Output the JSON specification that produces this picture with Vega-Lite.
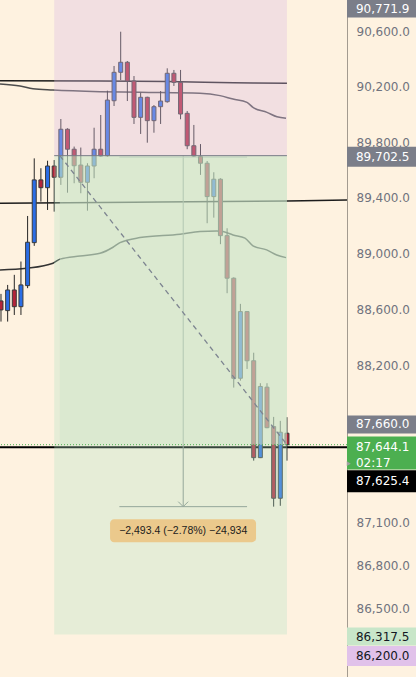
{
"$schema":"https://vega.github.io/schema/vega-lite/v6.json",
"width":347,"height":677,
"autosize":{"type":"none"},
"padding":{"left":0,"top":0,"right":69,"bottom":0},
"background":"#fef2e0",
"config":{"view":{"stroke":null},"scale":{"continuousPadding":0}},
"datasets":{
"candles":[
{"i":0,"open":88662,"high":88712,"low":88515,"close":88598},
{"i":1,"open":88593,"high":88776,"low":88515,"close":88740},
{"i":2,"open":88740,"high":88848,"low":88562,"close":88621},
{"i":3,"open":88621,"high":88943,"low":88562,"close":88776},
{"i":4,"open":88771,"high":89269,"low":88753,"close":89081},
{"i":5,"open":89078,"high":89683,"low":89055,"close":89528},
{"i":6,"open":89528,"high":89612,"low":89372,"close":89472},
{"i":7,"open":89472,"high":89666,"low":89312,"close":89628},
{"i":8,"open":89628,"high":89671,"low":89300,"close":89547},
{"i":9,"open":89547,"high":89967,"low":89492,"close":89893},
{"i":10,"open":89893,"high":89900,"low":89436,"close":89749},
{"i":11,"open":89749,"high":89768,"low":89504,"close":89630},
{"i":12,"open":89635,"high":89761,"low":89432,"close":89511},
{"i":13,"open":89511,"high":89648,"low":89307,"close":89628},
{"i":14,"open":89628,"high":89904,"low":89540,"close":89749},
{"i":15,"open":89749,"high":89996,"low":89695,"close":89700},
{"i":16,"open":89702,"high":90172,"low":89695,"close":90104},
{"i":17,"open":90099,"high":90351,"low":90061,"close":90305},
{"i":18,"open":90305,"high":90600,"low":90249,"close":90378},
{"i":19,"open":90378,"high":90387,"low":90097,"close":90242},
{"i":20,"open":90242,"high":90278,"low":89931,"close":89979},
{"i":21,"open":89979,"high":90157,"low":89859,"close":90124},
{"i":22,"open":90124,"high":90128,"low":89796,"close":89955},
{"i":23,"open":89955,"high":90068,"low":89868,"close":90056},
{"i":24,"open":90056,"high":90169,"low":89931,"close":90097},
{"i":25,"open":90092,"high":90334,"low":90085,"close":90298},
{"i":26,"open":90298,"high":90322,"low":90206,"close":90232},
{"i":27,"open":90232,"high":90322,"low":89965,"close":90003},
{"i":28,"open":90008,"high":90025,"low":89749,"close":89774},
{"i":29,"open":89774,"high":89924,"low":89695,"close":89700},
{"i":30,"open":89695,"high":89786,"low":89564,"close":89648},
{"i":31,"open":89648,"high":89664,"low":89217,"close":89408},
{"i":32,"open":89408,"high":89583,"low":89257,"close":89533},
{"i":33,"open":89533,"high":89540,"low":89067,"close":89128},
{"i":34,"open":89128,"high":89181,"low":88717,"close":88824},
{"i":35,"open":88824,"high":88830,"low":88047,"close":88113},
{"i":36,"open":88113,"high":88641,"low":88096,"close":88586},
{"i":37,"open":88586,"high":88590,"low":88179,"close":88237},
{"i":38,"open":88237,"high":88294,"low":87532,"close":87553},
{"i":39,"open":87553,"high":88078,"low":87550,"close":88055},
{"i":40,"open":88050,"high":88078,"low":87760,"close":87764},
{"i":41,"open":87772,"high":87840,"low":87209.1,"close":87268},
{"i":42,"open":87268,"high":87812,"low":87215,"close":87732},
{"i":43,"open":87725,"high":87838,"low":87532,"close":87644.1}
],
"mas":[
{"ma":"A","i":-0.15,"price":90244},{"ma":"A","i":15,"price":90242},{"ma":"A","i":25,"price":90238},{"ma":"A","i":35,"price":90230},{"ma":"A","i":43,"price":90225},
{"ma":"B","i":-0.15,"price":90220},{"ma":"B","i":2.86,"price":90206},{"ma":"B","i":4.81,"price":90186},{"ma":"B","i":7.82,"price":90177},{"ma":"B","i":14.89,"price":90165},{"ma":"B","i":20.9,"price":90160},{"ma":"B","i":29.92,"price":90153},{"ma":"B","i":32.93,"price":90136},{"ma":"B","i":34.89,"price":90111},{"ma":"B","i":36.99,"price":90087},{"ma":"B","i":37.89,"price":90051},{"ma":"B","i":40,"price":90015},{"ma":"B","i":41.5,"price":89983},{"ma":"B","i":42.86,"price":89972},
{"ma":"C","i":-0.15,"price":89360},{"ma":"C","i":20,"price":89368},{"ma":"C","i":43,"price":89377},{"ma":"C","i":52.03,"price":89383},
{"ma":"D","i":-0.15,"price":88883},{"ma":"D","i":3.86,"price":88895},{"ma":"D","i":7.82,"price":88931},{"ma":"D","i":8.87,"price":88960},{"ma":"D","i":11.88,"price":88983},{"ma":"D","i":14.89,"price":89002},{"ma":"D","i":16.84,"price":89045},{"ma":"D","i":17.89,"price":89078},{"ma":"D","i":20.9,"price":89114},{"ma":"D","i":26.92,"price":89138},{"ma":"D","i":29.92,"price":89157},{"ma":"D","i":32.44,"price":89162},{"ma":"D","i":33.38,"price":89157},{"ma":"D","i":34.89,"price":89133},{"ma":"D","i":36.69,"price":89110},{"ma":"D","i":37.89,"price":89055},{"ma":"D","i":39.95,"price":89026},{"ma":"D","i":41.46,"price":88990},{"ma":"D","i":42.86,"price":88971}
],
"tool":[{"from":8,"pnlFrom":8.85,"to":43,"entry":89702.5,"stop":90771.9,"target":86317.5,"last":87644.1}],
"measure":[{"start":17.8,"end":37,"mid":27.4,"top":89702.5,"bottom":87209.1,"boxFrom":16.4,"boxTo":38.35,"label":"−2,493.4 (−2.78%) −24,934"}],
"diag":[{"i":8.85,"price":89702.5},{"i":43,"price":87644.1}],
"levels":[{"name":"user","price":87625.4},{"name":"last","price":87644.1}]
},
"layer":[
{"data":{"name":"mas"},
 "mark":{"type":"line","strokeWidth":1.5,"interpolate":"monotone"},
 "encoding":{
  "x":{"field":"i","type":"quantitative","scale":{"domain":[-0.15,52.03],"nice":false,"zero":false,"padding":0},"axis":null},
  "y":{"field":"price","type":"quantitative","scale":{"type":"log","domain":[86024,90831],"nice":false,"zero":false,"padding":0},
       "axis":{"orient":"right","values":[90600,90200,89800,89400,89000,88600,88200,87100,86800,86500],"format":",.1f","title":null,"ticks":false,"labelPadding":9,"labelFont":"DejaVu Sans","labelFontSize":12,"labelColor":"#70737e","domainColor":"#a39b90","grid":false,"labelOverlap":false,"labelFlush":false}},
  "color":{"field":"ma","type":"nominal","scale":{"domain":["A","B","C","D"],"range":["#1c1c1c","#4d4d4d","#1c1c1c","#333333"]},"legend":null},
  "order":{"field":"i","type":"quantitative"}
 }},
{"data":{"name":"levels"},"transform":[{"filter":"datum.name == 'user'"}],
 "mark":{"type":"rule","color":"#000000","strokeWidth":2},
 "encoding":{"y":{"field":"price","type":"quantitative","scale":{"type":"log","domain":[86024,90831],"nice":false,"zero":false,"padding":0},"axis":{"orient":"right","values":[90600,90200,89800,89400,89000,88600,88200,87100,86800,86500],"format":",.1f","title":null,"ticks":false,"labelPadding":9,"labelFont":"DejaVu Sans","labelFontSize":12,"labelColor":"#70737e","domainColor":"#a39b90","grid":false,"labelOverlap":false,"labelFlush":false}}}},
{"data":{"name":"measure"},
 "layer":[
  {"mark":{"type":"rule","color":"#8a8f8a","strokeWidth":1},
   "encoding":{"x":{"field":"mid","type":"quantitative","scale":{"domain":[-0.15,52.03],"nice":false,"zero":false,"padding":0},"axis":null},"y":{"field":"top","type":"quantitative","scale":{"type":"log","domain":[86024,90831],"nice":false,"zero":false,"padding":0},"axis":{"orient":"right","values":[90600,90200,89800,89400,89000,88600,88200,87100,86800,86500],"format":",.1f","title":null,"ticks":false,"labelPadding":9,"labelFont":"DejaVu Sans","labelFontSize":12,"labelColor":"#70737e","domainColor":"#a39b90","grid":false,"labelOverlap":false,"labelFlush":false}},"y2":{"field":"bottom"}}},
  {"mark":{"type":"rule","color":"#8a8f8a","strokeWidth":1},
   "encoding":{"x":{"field":"start","type":"quantitative","scale":{"domain":[-0.15,52.03],"nice":false,"zero":false,"padding":0},"axis":null},"x2":{"field":"end"},"y":{"field":"bottom","type":"quantitative","scale":{"type":"log","domain":[86024,90831],"nice":false,"zero":false,"padding":0},"axis":{"orient":"right","values":[90600,90200,89800,89400,89000,88600,88200,87100,86800,86500],"format":",.1f","title":null,"ticks":false,"labelPadding":9,"labelFont":"DejaVu Sans","labelFontSize":12,"labelColor":"#70737e","domainColor":"#a39b90","grid":false,"labelOverlap":false,"labelFlush":false}}}},
  {"mark":{"type":"rule","color":"#b0b4b0","strokeWidth":1,"yOffset":1.5},
   "encoding":{"x":{"field":"start","type":"quantitative","scale":{"domain":[-0.15,52.03],"nice":false,"zero":false,"padding":0},"axis":null},"x2":{"field":"end"},"y":{"field":"top","type":"quantitative","scale":{"type":"log","domain":[86024,90831],"nice":false,"zero":false,"padding":0},"axis":{"orient":"right","values":[90600,90200,89800,89400,89000,88600,88200,87100,86800,86500],"format":",.1f","title":null,"ticks":false,"labelPadding":9,"labelFont":"DejaVu Sans","labelFontSize":12,"labelColor":"#70737e","domainColor":"#a39b90","grid":false,"labelOverlap":false,"labelFlush":false}}}},
  {"mark":{"type":"point","shape":"M-1,-1L0,0L1,-1","filled":false,"size":100,"stroke":"#8a8f8a","strokeWidth":1,"opacity":1},
   "encoding":{"x":{"field":"mid","type":"quantitative","scale":{"domain":[-0.15,52.03],"nice":false,"zero":false,"padding":0},"axis":null},"y":{"field":"bottom","type":"quantitative","scale":{"type":"log","domain":[86024,90831],"nice":false,"zero":false,"padding":0},"axis":{"orient":"right","values":[90600,90200,89800,89400,89000,88600,88200,87100,86800,86500],"format":",.1f","title":null,"ticks":false,"labelPadding":9,"labelFont":"DejaVu Sans","labelFontSize":12,"labelColor":"#70737e","domainColor":"#a39b90","grid":false,"labelOverlap":false,"labelFlush":false}}}}
 ]},
{"data":{"name":"candles"},
 "mark":{"type":"rule","color":"#262626","strokeWidth":1},
 "encoding":{"x":{"field":"i","type":"quantitative","scale":{"domain":[-0.15,52.03],"nice":false,"zero":false,"padding":0},"axis":null},
  "y":{"field":"low","type":"quantitative","scale":{"type":"log","domain":[86024,90831],"nice":false,"zero":false,"padding":0},"axis":{"orient":"right","values":[90600,90200,89800,89400,89000,88600,88200,87100,86800,86500],"format":",.1f","title":null,"ticks":false,"labelPadding":9,"labelFont":"DejaVu Sans","labelFontSize":12,"labelColor":"#70737e","domainColor":"#a39b90","grid":false,"labelOverlap":false,"labelFlush":false}},"y2":{"field":"high"}}},
{"data":{"name":"candles"},
 "mark":{"type":"bar","size":4,"stroke":"#3a3a3a","strokeWidth":1},
 "encoding":{"x":{"field":"i","type":"quantitative","scale":{"domain":[-0.15,52.03],"nice":false,"zero":false,"padding":0},"axis":null},
  "y":{"field":"open","type":"quantitative","scale":{"type":"log","domain":[86024,90831],"nice":false,"zero":false,"padding":0},"axis":{"orient":"right","values":[90600,90200,89800,89400,89000,88600,88200,87100,86800,86500],"format":",.1f","title":null,"ticks":false,"labelPadding":9,"labelFont":"DejaVu Sans","labelFontSize":12,"labelColor":"#70737e","domainColor":"#a39b90","grid":false,"labelOverlap":false,"labelFlush":false}},"y2":{"field":"close"},
  "color":{"condition":{"test":"datum.close >= datum.open","value":"#2a6de6"},"value":"#b3243a"}}},
{"data":{"name":"tool"},
 "layer":[
  {"mark":{"type":"rect","color":"#dcbce3","opacity":0.35,"clip":true,"y2Offset":-12},
   "encoding":{"x":{"field":"from","type":"quantitative","scale":{"domain":[-0.15,52.03],"nice":false,"zero":false,"padding":0},"axis":null},"x2":{"field":"to"},"y":{"field":"entry","type":"quantitative","scale":{"type":"log","domain":[86024,90831],"nice":false,"zero":false,"padding":0},"axis":{"orient":"right","values":[90600,90200,89800,89400,89000,88600,88200,87100,86800,86500],"format":",.1f","title":null,"ticks":false,"labelPadding":9,"labelFont":"DejaVu Sans","labelFontSize":12,"labelColor":"#70737e","domainColor":"#a39b90","grid":false,"labelOverlap":false,"labelFlush":false}},"y2":{"field":"stop"}}},
  {"mark":{"type":"rect","color":"#b1e1c2","opacity":0.3},
   "encoding":{"x":{"field":"from","type":"quantitative","scale":{"domain":[-0.15,52.03],"nice":false,"zero":false,"padding":0},"axis":null},"x2":{"field":"to"},"y":{"field":"entry","type":"quantitative","scale":{"type":"log","domain":[86024,90831],"nice":false,"zero":false,"padding":0},"axis":{"orient":"right","values":[90600,90200,89800,89400,89000,88600,88200,87100,86800,86500],"format":",.1f","title":null,"ticks":false,"labelPadding":9,"labelFont":"DejaVu Sans","labelFontSize":12,"labelColor":"#70737e","domainColor":"#a39b90","grid":false,"labelOverlap":false,"labelFlush":false}},"y2":{"field":"target"}}},
  {"mark":{"type":"rect","color":"#cfe5c9","opacity":0.5},
   "encoding":{"x":{"field":"pnlFrom","type":"quantitative","scale":{"domain":[-0.15,52.03],"nice":false,"zero":false,"padding":0},"axis":null},"x2":{"field":"to"},"y":{"field":"entry","type":"quantitative","scale":{"type":"log","domain":[86024,90831],"nice":false,"zero":false,"padding":0},"axis":{"orient":"right","values":[90600,90200,89800,89400,89000,88600,88200,87100,86800,86500],"format":",.1f","title":null,"ticks":false,"labelPadding":9,"labelFont":"DejaVu Sans","labelFontSize":12,"labelColor":"#70737e","domainColor":"#a39b90","grid":false,"labelOverlap":false,"labelFlush":false}},"y2":{"field":"last"}}},
  {"mark":{"type":"rule","color":"#787b86","strokeWidth":1},
   "encoding":{"x":{"field":"from","type":"quantitative","scale":{"domain":[-0.15,52.03],"nice":false,"zero":false,"padding":0},"axis":null},"x2":{"field":"to"},"y":{"field":"entry","type":"quantitative","scale":{"type":"log","domain":[86024,90831],"nice":false,"zero":false,"padding":0},"axis":{"orient":"right","values":[90600,90200,89800,89400,89000,88600,88200,87100,86800,86500],"format":",.1f","title":null,"ticks":false,"labelPadding":9,"labelFont":"DejaVu Sans","labelFontSize":12,"labelColor":"#70737e","domainColor":"#a39b90","grid":false,"labelOverlap":false,"labelFlush":false}}}}
 ]},
{"data":{"name":"diag"},
 "mark":{"type":"line","color":"#7d8490","strokeWidth":1.3,"strokeDash":[5,4]},
 "encoding":{"x":{"field":"i","type":"quantitative","scale":{"domain":[-0.15,52.03],"nice":false,"zero":false,"padding":0},"axis":null},
  "y":{"field":"price","type":"quantitative","scale":{"type":"log","domain":[86024,90831],"nice":false,"zero":false,"padding":0},"axis":{"orient":"right","values":[90600,90200,89800,89400,89000,88600,88200,87100,86800,86500],"format":",.1f","title":null,"ticks":false,"labelPadding":9,"labelFont":"DejaVu Sans","labelFontSize":12,"labelColor":"#70737e","domainColor":"#a39b90","grid":false,"labelOverlap":false,"labelFlush":false}}}},
{"data":{"name":"levels"},"transform":[{"filter":"datum.name == 'last'"}],
 "mark":{"type":"rule","color":"#4caf50","strokeWidth":1,"strokeDash":[1,2]},
 "encoding":{"y":{"field":"price","type":"quantitative","scale":{"type":"log","domain":[86024,90831],"nice":false,"zero":false,"padding":0},"axis":{"orient":"right","values":[90600,90200,89800,89400,89000,88600,88200,87100,86800,86500],"format":",.1f","title":null,"ticks":false,"labelPadding":9,"labelFont":"DejaVu Sans","labelFontSize":12,"labelColor":"#70737e","domainColor":"#a39b90","grid":false,"labelOverlap":false,"labelFlush":false}}}},
{"data":{"name":"measure"},
 "layer":[
  {"mark":{"type":"bar","color":"#ebc98c","size":23,"yOffset":24,"cornerRadius":4},
   "encoding":{"x":{"field":"boxFrom","type":"quantitative","scale":{"domain":[-0.15,52.03],"nice":false,"zero":false,"padding":0},"axis":null},"x2":{"field":"boxTo"},"y":{"field":"bottom","type":"quantitative","scale":{"type":"log","domain":[86024,90831],"nice":false,"zero":false,"padding":0},"axis":{"orient":"right","values":[90600,90200,89800,89400,89000,88600,88200,87100,86800,86500],"format":",.1f","title":null,"ticks":false,"labelPadding":9,"labelFont":"DejaVu Sans","labelFontSize":12,"labelColor":"#70737e","domainColor":"#a39b90","grid":false,"labelOverlap":false,"labelFlush":false}}}},
  {"mark":{"type":"text","align":"center","baseline":"middle","font":"Liberation Sans","fontSize":10.5,"color":"#1c1c1c","yOffset":24},
   "encoding":{"x":{"field":"mid","type":"quantitative","scale":{"domain":[-0.15,52.03],"nice":false,"zero":false,"padding":0},"axis":null},"y":{"field":"bottom","type":"quantitative","scale":{"type":"log","domain":[86024,90831],"nice":false,"zero":false,"padding":0},"axis":{"orient":"right","values":[90600,90200,89800,89400,89000,88600,88200,87100,86800,86500],"format":",.1f","title":null,"ticks":false,"labelPadding":9,"labelFont":"DejaVu Sans","labelFontSize":12,"labelColor":"#70737e","domainColor":"#a39b90","grid":false,"labelOverlap":false,"labelFlush":false}},"text":{"field":"label"}}}
 ]},
{"data":{"values":[
  {"label":"90,771.9","price":90771.9,"tag":"t1"},
  {"label":"89,702.5","price":89702.5,"tag":"t2"},
  {"label":"87,660.0","price":87660.0,"tag":"t3"},
  {"label":"87,644.1","timer":"02:17","price":87644.1,"tag":"t4"},
  {"label":"87,625.4","price":87625.4,"tag":"t5"},
  {"label":"86,317.5","price":86317.5,"tag":"t6"},
  {"label":"86,200.0","price":86200.0,"tag":"t7"}]},
 "layer":[
  {"transform":[{"filter":"datum.tag == 't1'"}],"mark":{"type":"bar","color":"#7b7e89","size":18,"yOffset":0.5,"clip":false},
   "encoding":{"x":{"datum":52.03,"type":"quantitative","scale":{"domain":[-0.15,52.03],"nice":false,"zero":false,"padding":0},"axis":null},"x2":{"datum":62.6},"y":{"field":"price","type":"quantitative","scale":{"type":"log","domain":[86024,90831],"nice":false,"zero":false,"padding":0},"axis":{"orient":"right","values":[90600,90200,89800,89400,89000,88600,88200,87100,86800,86500],"format":",.1f","title":null,"ticks":false,"labelPadding":9,"labelFont":"DejaVu Sans","labelFontSize":12,"labelColor":"#70737e","domainColor":"#a39b90","grid":false,"labelOverlap":false,"labelFlush":false}}}},
  {"transform":[{"filter":"datum.tag == 't1'"}],"mark":{"type":"text","align":"left","baseline":"middle","font":"DejaVu Sans","fontSize":12,"color":"#ffffff","yOffset":0.5,"clip":false},
   "encoding":{"x":{"datum":53.38,"type":"quantitative","scale":{"domain":[-0.15,52.03],"nice":false,"zero":false,"padding":0},"axis":null},"y":{"field":"price","type":"quantitative","scale":{"type":"log","domain":[86024,90831],"nice":false,"zero":false,"padding":0},"axis":{"orient":"right","values":[90600,90200,89800,89400,89000,88600,88200,87100,86800,86500],"format":",.1f","title":null,"ticks":false,"labelPadding":9,"labelFont":"DejaVu Sans","labelFontSize":12,"labelColor":"#70737e","domainColor":"#a39b90","grid":false,"labelOverlap":false,"labelFlush":false}},"text":{"field":"label"}}},
  {"transform":[{"filter":"datum.tag == 't2'"}],"mark":{"type":"bar","color":"#7b7e89","size":20,"yOffset":1,"clip":false},
   "encoding":{"x":{"datum":52.03,"type":"quantitative","scale":{"domain":[-0.15,52.03],"nice":false,"zero":false,"padding":0},"axis":null},"x2":{"datum":62.6},"y":{"field":"price","type":"quantitative","scale":{"type":"log","domain":[86024,90831],"nice":false,"zero":false,"padding":0},"axis":{"orient":"right","values":[90600,90200,89800,89400,89000,88600,88200,87100,86800,86500],"format":",.1f","title":null,"ticks":false,"labelPadding":9,"labelFont":"DejaVu Sans","labelFontSize":12,"labelColor":"#70737e","domainColor":"#a39b90","grid":false,"labelOverlap":false,"labelFlush":false}}}},
  {"transform":[{"filter":"datum.tag == 't2'"}],"mark":{"type":"text","align":"left","baseline":"middle","font":"DejaVu Sans","fontSize":12,"color":"#ffffff","yOffset":1,"clip":false},
   "encoding":{"x":{"datum":53.38,"type":"quantitative","scale":{"domain":[-0.15,52.03],"nice":false,"zero":false,"padding":0},"axis":null},"y":{"field":"price","type":"quantitative","scale":{"type":"log","domain":[86024,90831],"nice":false,"zero":false,"padding":0},"axis":{"orient":"right","values":[90600,90200,89800,89400,89000,88600,88200,87100,86800,86500],"format":",.1f","title":null,"ticks":false,"labelPadding":9,"labelFont":"DejaVu Sans","labelFontSize":12,"labelColor":"#70737e","domainColor":"#a39b90","grid":false,"labelOverlap":false,"labelFlush":false}},"text":{"field":"label"}}},
  {"transform":[{"filter":"datum.tag == 't3'"}],"mark":{"type":"bar","color":"#7b7e89","size":18,"yOffset":-18,"clip":false},
   "encoding":{"x":{"datum":52.03,"type":"quantitative","scale":{"domain":[-0.15,52.03],"nice":false,"zero":false,"padding":0},"axis":null},"x2":{"datum":62.6},"y":{"field":"price","type":"quantitative","scale":{"type":"log","domain":[86024,90831],"nice":false,"zero":false,"padding":0},"axis":{"orient":"right","values":[90600,90200,89800,89400,89000,88600,88200,87100,86800,86500],"format":",.1f","title":null,"ticks":false,"labelPadding":9,"labelFont":"DejaVu Sans","labelFontSize":12,"labelColor":"#70737e","domainColor":"#a39b90","grid":false,"labelOverlap":false,"labelFlush":false}}}},
  {"transform":[{"filter":"datum.tag == 't3'"}],"mark":{"type":"text","align":"left","baseline":"middle","font":"DejaVu Sans","fontSize":12,"color":"#ffffff","yOffset":-18,"clip":false},
   "encoding":{"x":{"datum":53.38,"type":"quantitative","scale":{"domain":[-0.15,52.03],"nice":false,"zero":false,"padding":0},"axis":null},"y":{"field":"price","type":"quantitative","scale":{"type":"log","domain":[86024,90831],"nice":false,"zero":false,"padding":0},"axis":{"orient":"right","values":[90600,90200,89800,89400,89000,88600,88200,87100,86800,86500],"format":",.1f","title":null,"ticks":false,"labelPadding":9,"labelFont":"DejaVu Sans","labelFontSize":12,"labelColor":"#70737e","domainColor":"#a39b90","grid":false,"labelOverlap":false,"labelFlush":false}},"text":{"field":"label"}}},
  {"transform":[{"filter":"datum.tag == 't4'"}],"mark":{"type":"bar","color":"#4caf50","size":33,"yOffset":8.3,"clip":false},
   "encoding":{"x":{"datum":52.03,"type":"quantitative","scale":{"domain":[-0.15,52.03],"nice":false,"zero":false,"padding":0},"axis":null},"x2":{"datum":62.6},"y":{"field":"price","type":"quantitative","scale":{"type":"log","domain":[86024,90831],"nice":false,"zero":false,"padding":0},"axis":{"orient":"right","values":[90600,90200,89800,89400,89000,88600,88200,87100,86800,86500],"format":",.1f","title":null,"ticks":false,"labelPadding":9,"labelFont":"DejaVu Sans","labelFontSize":12,"labelColor":"#70737e","domainColor":"#a39b90","grid":false,"labelOverlap":false,"labelFlush":false}}}},
  {"transform":[{"filter":"datum.tag == 't4'"}],"mark":{"type":"text","align":"left","baseline":"middle","font":"DejaVu Sans","fontSize":12,"color":"#ffffff","yOffset":2,"clip":false},
   "encoding":{"x":{"datum":53.38,"type":"quantitative","scale":{"domain":[-0.15,52.03],"nice":false,"zero":false,"padding":0},"axis":null},"y":{"field":"price","type":"quantitative","scale":{"type":"log","domain":[86024,90831],"nice":false,"zero":false,"padding":0},"axis":{"orient":"right","values":[90600,90200,89800,89400,89000,88600,88200,87100,86800,86500],"format":",.1f","title":null,"ticks":false,"labelPadding":9,"labelFont":"DejaVu Sans","labelFontSize":12,"labelColor":"#70737e","domainColor":"#a39b90","grid":false,"labelOverlap":false,"labelFlush":false}},"text":{"field":"label"}}},
  {"transform":[{"filter":"datum.tag == 't4'"}],"mark":{"type":"text","align":"left","baseline":"middle","font":"DejaVu Sans","fontSize":12,"color":"#ffffff","yOffset":18,"clip":false},
   "encoding":{"x":{"datum":53.38,"type":"quantitative","scale":{"domain":[-0.15,52.03],"nice":false,"zero":false,"padding":0},"axis":null},"y":{"field":"price","type":"quantitative","scale":{"type":"log","domain":[86024,90831],"nice":false,"zero":false,"padding":0},"axis":{"orient":"right","values":[90600,90200,89800,89400,89000,88600,88200,87100,86800,86500],"format":",.1f","title":null,"ticks":false,"labelPadding":9,"labelFont":"DejaVu Sans","labelFontSize":12,"labelColor":"#70737e","domainColor":"#a39b90","grid":false,"labelOverlap":false,"labelFlush":false}},"text":{"field":"timer"}}},
  {"transform":[{"filter":"datum.tag == 't4'"}],"mark":{"type":"point","shape":"triangle-right","filled":true,"color":"#a0a0a0","size":22,"yOffset":19,"opacity":1,"clip":false},
   "encoding":{"x":{"datum":52.3,"type":"quantitative","scale":{"domain":[-0.15,52.03],"nice":false,"zero":false,"padding":0},"axis":null},"y":{"field":"price","type":"quantitative","scale":{"type":"log","domain":[86024,90831],"nice":false,"zero":false,"padding":0},"axis":{"orient":"right","values":[90600,90200,89800,89400,89000,88600,88200,87100,86800,86500],"format":",.1f","title":null,"ticks":false,"labelPadding":9,"labelFont":"DejaVu Sans","labelFontSize":12,"labelColor":"#70737e","domainColor":"#a39b90","grid":false,"labelOverlap":false,"labelFlush":false}}}},
  {"transform":[{"filter":"datum.tag == 't5'"}],"mark":{"type":"bar","color":"#000000","size":22,"yOffset":34,"clip":false},
   "encoding":{"x":{"datum":52.03,"type":"quantitative","scale":{"domain":[-0.15,52.03],"nice":false,"zero":false,"padding":0},"axis":null},"x2":{"datum":62.6},"y":{"field":"price","type":"quantitative","scale":{"type":"log","domain":[86024,90831],"nice":false,"zero":false,"padding":0},"axis":{"orient":"right","values":[90600,90200,89800,89400,89000,88600,88200,87100,86800,86500],"format":",.1f","title":null,"ticks":false,"labelPadding":9,"labelFont":"DejaVu Sans","labelFontSize":12,"labelColor":"#70737e","domainColor":"#a39b90","grid":false,"labelOverlap":false,"labelFlush":false}}}},
  {"transform":[{"filter":"datum.tag == 't5'"}],"mark":{"type":"text","align":"left","baseline":"middle","font":"DejaVu Sans","fontSize":12,"color":"#ffffff","yOffset":34,"clip":false},
   "encoding":{"x":{"datum":53.38,"type":"quantitative","scale":{"domain":[-0.15,52.03],"nice":false,"zero":false,"padding":0},"axis":null},"y":{"field":"price","type":"quantitative","scale":{"type":"log","domain":[86024,90831],"nice":false,"zero":false,"padding":0},"axis":{"orient":"right","values":[90600,90200,89800,89400,89000,88600,88200,87100,86800,86500],"format":",.1f","title":null,"ticks":false,"labelPadding":9,"labelFont":"DejaVu Sans","labelFontSize":12,"labelColor":"#70737e","domainColor":"#a39b90","grid":false,"labelOverlap":false,"labelFlush":false}},"text":{"field":"label"}}},
  {"transform":[{"filter":"datum.tag == 't6'"}],"mark":{"type":"bar","color":"#c8e6c9","size":18,"yOffset":2,"clip":false},
   "encoding":{"x":{"datum":52.03,"type":"quantitative","scale":{"domain":[-0.15,52.03],"nice":false,"zero":false,"padding":0},"axis":null},"x2":{"datum":62.6},"y":{"field":"price","type":"quantitative","scale":{"type":"log","domain":[86024,90831],"nice":false,"zero":false,"padding":0},"axis":{"orient":"right","values":[90600,90200,89800,89400,89000,88600,88200,87100,86800,86500],"format":",.1f","title":null,"ticks":false,"labelPadding":9,"labelFont":"DejaVu Sans","labelFontSize":12,"labelColor":"#70737e","domainColor":"#a39b90","grid":false,"labelOverlap":false,"labelFlush":false}}}},
  {"transform":[{"filter":"datum.tag == 't6'"}],"mark":{"type":"text","align":"left","baseline":"middle","font":"DejaVu Sans","fontSize":12,"color":"#131722","yOffset":2,"clip":false},
   "encoding":{"x":{"datum":53.38,"type":"quantitative","scale":{"domain":[-0.15,52.03],"nice":false,"zero":false,"padding":0},"axis":null},"y":{"field":"price","type":"quantitative","scale":{"type":"log","domain":[86024,90831],"nice":false,"zero":false,"padding":0},"axis":{"orient":"right","values":[90600,90200,89800,89400,89000,88600,88200,87100,86800,86500],"format":",.1f","title":null,"ticks":false,"labelPadding":9,"labelFont":"DejaVu Sans","labelFontSize":12,"labelColor":"#70737e","domainColor":"#a39b90","grid":false,"labelOverlap":false,"labelFlush":false}},"text":{"field":"label"}}},
  {"transform":[{"filter":"datum.tag == 't7'"}],"mark":{"type":"bar","color":"#e1c2ea","size":20,"yOffset":4.4,"clip":false},
   "encoding":{"x":{"datum":52.03,"type":"quantitative","scale":{"domain":[-0.15,52.03],"nice":false,"zero":false,"padding":0},"axis":null},"x2":{"datum":62.6},"y":{"field":"price","type":"quantitative","scale":{"type":"log","domain":[86024,90831],"nice":false,"zero":false,"padding":0},"axis":{"orient":"right","values":[90600,90200,89800,89400,89000,88600,88200,87100,86800,86500],"format":",.1f","title":null,"ticks":false,"labelPadding":9,"labelFont":"DejaVu Sans","labelFontSize":12,"labelColor":"#70737e","domainColor":"#a39b90","grid":false,"labelOverlap":false,"labelFlush":false}}}},
  {"transform":[{"filter":"datum.tag == 't7'"}],"mark":{"type":"text","align":"left","baseline":"middle","font":"DejaVu Sans","fontSize":12,"color":"#131722","yOffset":4.4,"clip":false},
   "encoding":{"x":{"datum":53.38,"type":"quantitative","scale":{"domain":[-0.15,52.03],"nice":false,"zero":false,"padding":0},"axis":null},"y":{"field":"price","type":"quantitative","scale":{"type":"log","domain":[86024,90831],"nice":false,"zero":false,"padding":0},"axis":{"orient":"right","values":[90600,90200,89800,89400,89000,88600,88200,87100,86800,86500],"format":",.1f","title":null,"ticks":false,"labelPadding":9,"labelFont":"DejaVu Sans","labelFontSize":12,"labelColor":"#70737e","domainColor":"#a39b90","grid":false,"labelOverlap":false,"labelFlush":false}},"text":{"field":"label"}}}
 ]}
]
}
